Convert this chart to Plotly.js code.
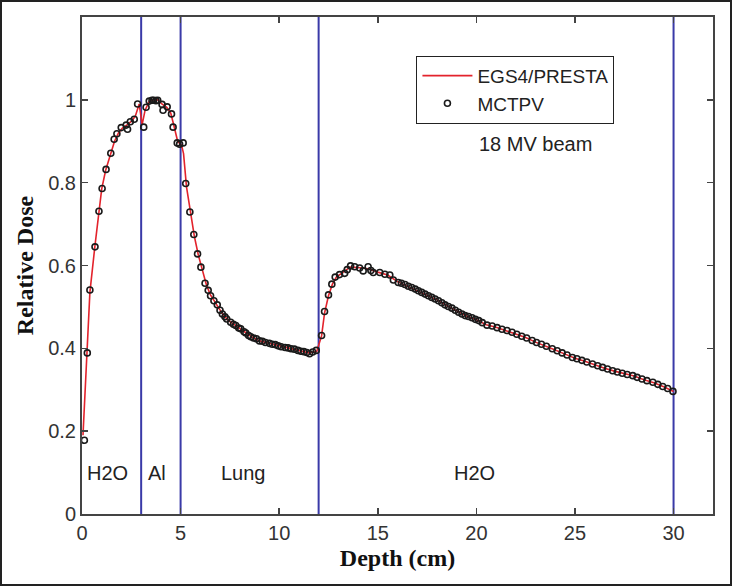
<!DOCTYPE html>
<html>
<head>
<meta charset="utf-8">
<script src="https://cdn.plot.ly/plotly-3.0.1.min.js"></script>
<style>
html,body{margin:0;padding:0;background:#fff;}
#frame{width:732px;height:586px;box-sizing:border-box;border:2px solid #222;position:relative;overflow:hidden;}
#plot{width:728px;height:582px;}
</style>
</head>
<body>
<div id="frame"><div id="plot"></div></div>
<script>
// EGS4/PRESTA (line)
const egsX = [0.05,0.25,0.4,0.65,0.85,1.0,1.2,1.45,1.65,1.85,2.05,2.3,2.5,2.7,2.9,3.05,3.2,3.4,3.6,3.85,4.05,4.3,4.5,4.65,4.85,5.05,5.15,5.3,5.5,5.7,5.9,6.1,6.3,6.5,6.8,7.1,7.4,7.8,8.2,8.6,9.0,9.5,10.0,10.5,11.0,11.5,11.9,12.15,12.3,12.5,12.7,12.9,13.2,13.6,14.0,14.5,15.0,15.5,16.0,16.5,17.0,17.5,18.0,18.5,19.0,19.5,20.0,20.5,21.0,21.5,22.0,22.5,23.0,23.5,24.0,24.5,25.0,25.5,26.0,26.5,27.0,27.5,28.0,28.5,29.0,29.5,30.0];
const egsY = [0.19,0.385,0.535,0.645,0.73,0.785,0.83,0.87,0.9,0.92,0.932,0.94,0.948,0.96,0.99,0.94,0.975,0.995,1.0,1.0,0.99,0.982,0.968,0.94,0.9,0.89,0.87,0.79,0.725,0.67,0.625,0.59,0.555,0.53,0.508,0.485,0.468,0.455,0.44,0.428,0.418,0.412,0.406,0.4,0.395,0.389,0.392,0.43,0.485,0.527,0.555,0.572,0.582,0.596,0.595,0.592,0.584,0.577,0.561,0.55,0.54,0.529,0.517,0.503,0.49,0.478,0.469,0.457,0.451,0.443,0.435,0.426,0.415,0.406,0.396,0.386,0.376,0.369,0.36,0.352,0.345,0.339,0.333,0.324,0.317,0.307,0.296];

// MCTPV (markers)
const mcX = [0.12,0.27,0.40,0.66,0.86,1.02,1.22,1.46,1.63,1.77,1.99,2.24,2.31,2.45,2.65,2.82,3.13,3.25,3.41,3.55,3.63,3.75,3.84,4.06,4.11,4.32,4.54,4.62,4.83,4.95,5.13,5.26,5.47,5.67,5.86,6.03,6.24,6.40,6.52,6.69,6.86,7.00,7.12,7.25,7.34,7.54,7.68,7.80,7.95,8.05,8.22,8.31,8.45,8.56,8.70,8.85,9.00,9.15,9.30,9.50,9.65,9.80,9.95,10.10,10.30,10.45,10.60,10.77,10.95,11.10,11.25,11.40,11.54,11.70,11.88,12.15,12.30,12.50,12.67,12.84,13.06,13.32,13.45,13.62,13.83,14.08,14.26,14.51,14.65,14.77,15.10,15.36,15.61,15.79,16.04,16.20,16.38,16.55,16.72,16.90,17.06,17.23,17.40,17.57,17.74,17.91,18.08,18.25,18.41,18.58,18.76,18.93,19.10,19.27,19.43,19.60,19.78,19.95,20.12,20.30,20.54,20.80,21.05,21.30,21.55,21.81,22.05,22.30,22.55,22.83,23.05,23.30,23.55,23.85,24.10,24.35,24.60,24.87,25.10,25.35,25.60,25.89,26.15,26.40,26.65,26.91,27.15,27.40,27.65,27.93,28.15,28.40,28.65,28.95,29.20,29.45,29.70,29.97];
const mcY = [0.178,0.389,0.541,0.645,0.731,0.786,0.832,0.871,0.905,0.918,0.933,0.939,0.929,0.947,0.953,0.990,0.934,0.982,0.997,0.999,0.999,0.998,0.999,0.989,0.975,0.983,0.966,0.934,0.896,0.893,0.896,0.798,0.729,0.675,0.628,0.596,0.557,0.540,0.527,0.515,0.505,0.492,0.483,0.476,0.471,0.463,0.458,0.455,0.449,0.447,0.440,0.437,0.431,0.428,0.425,0.423,0.418,0.417,0.414,0.412,0.410,0.409,0.406,0.404,0.402,0.401,0.399,0.398,0.395,0.393,0.392,0.390,0.387,0.391,0.395,0.431,0.489,0.529,0.555,0.572,0.578,0.581,0.590,0.599,0.597,0.594,0.587,0.597,0.588,0.583,0.583,0.579,0.577,0.565,0.559,0.557,0.554,0.550,0.547,0.543,0.539,0.535,0.531,0.527,0.523,0.519,0.515,0.510,0.505,0.501,0.497,0.492,0.487,0.483,0.479,0.477,0.474,0.470,0.467,0.462,0.456,0.454,0.450,0.446,0.443,0.439,0.434,0.429,0.425,0.419,0.414,0.410,0.405,0.399,0.394,0.389,0.384,0.378,0.375,0.371,0.367,0.362,0.358,0.354,0.350,0.346,0.343,0.340,0.337,0.334,0.330,0.326,0.322,0.318,0.313,0.308,0.303,0.296];

// material boundaries and labels
const boundaries = [3, 5, 12, 30];
const regionLabels = ["H2O", "Al", "Lung", "H2O"];
const regionX = [1.3, 3.8, 8.2, 19.9];
const regionY = 0.098;

const xTicks = [0, 5, 10, 15, 20, 25, 30];
const yTicks = [0, 0.2, 0.4, 0.6, 0.8, 1];
const yTickText = ["0", "0.2", "0.4", "0.6", "0.8", "1"];

const sans = "Liberation Sans, Arial, sans-serif";
const serif = "Liberation Serif, Times New Roman, serif";

const traces = [
  {x: egsX, y: egsY, type: "scatter", mode: "lines", name: "EGS4/PRESTA",
   line: {color: "#e3232c", width: 1.6}},
  {x: mcX, y: mcY, type: "scatter", mode: "markers", name: "MCTPV",
   marker: {symbol: "circle-open", size: 6, color: "#1a1a1a", line: {width: 1.6, color: "#1a1a1a"}}}
];

const shapes = boundaries.map(b => ({type: "line", xref: "x", yref: "y", x0: b, x1: b, y0: 0, y1: 1.2,
  line: {color: "#3a3aa8", width: 2}, layer: "below"}));

const annotations = regionLabels.map((t, i) => ({x: regionX[i], y: regionY, xref: "x", yref: "y", text: t,
  showarrow: false, font: {family: sans, size: 20, color: "#222"}}));
annotations.push({x: 23, y: 0.893, xref: "x", yref: "y", text: "18 MV beam", showarrow: false,
  font: {family: sans, size: 20, color: "#222"}});

const axisCommon = {showgrid: false, zeroline: false, showline: true, linecolor: "#444", linewidth: 2,
  mirror: "ticks", ticks: "inside", ticklen: 6, tickwidth: 1.5, tickcolor: "#444",
  tickfont: {family: sans, size: 20, color: "#333"}};

const layout = {
  width: 728, height: 582,
  margin: {l: 80, r: 17, t: 15, b: 70},
  paper_bgcolor: "#fff", plot_bgcolor: "#fff",
  showlegend: true,
  legend: {x: 0.53, y: 0.922, xanchor: "left", yanchor: "top", bgcolor: "#fff",
    bordercolor: "#222", borderwidth: 1, itemwidth: 50, tracegroupgap: 0,
    font: {family: sans, size: 19, color: "#222"}},
  xaxis: Object.assign({}, axisCommon, {range: [0, 32], tickvals: xTicks, ticktext: xTicks.map(String),
    ticklabelstandoff: 0,
    title: {text: "Depth (cm)", font: {family: serif, size: 24, color: "#111", weight: "bold"}, standoff: 6}}),
  yaxis: Object.assign({}, axisCommon, {range: [0, 1.2], tickvals: yTicks, ticktext: yTickText,
    title: {text: "Relative Dose", font: {family: serif, size: 24, color: "#111", weight: "bold"}, standoff: 8}}),
  shapes: shapes,
  annotations: annotations
};

Plotly.newPlot("plot", traces, layout, {displayModeBar: false, staticPlot: true});
</script>
</body>
</html>
